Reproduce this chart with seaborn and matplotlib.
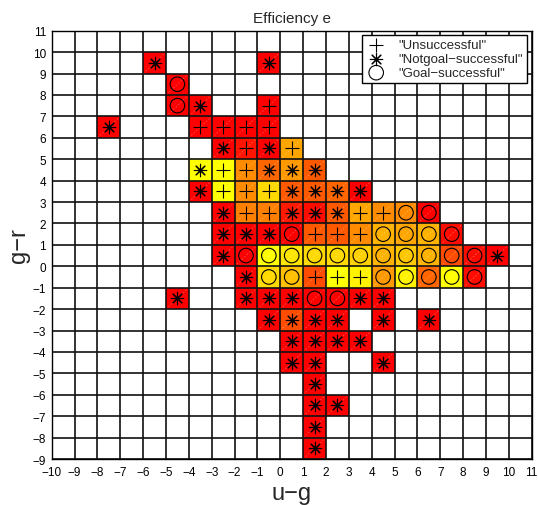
import numpy as np
import pandas as pd
import matplotlib
matplotlib.use("Agg")
import matplotlib.pyplot as plt
import seaborn as sns

# Colour-bin lower-left corners (u-g, g-r), efficiency of each bin and the outcome drawn in it
ug_bin = [
    -6, -1,                                            # g-r 9..10
    -5,                                                # 8..9
    -5, -4, -1,                                        # 7..8
    -8, -4, -3, -2, -1,                                # 6..7
    -3, -2, -1, 0,                                     # 5..6
    -4, -3, -2, -1, 0, 1,                              # 4..5
    -4, -3, -2, -1, 0, 1, 2, 3,                        # 3..4
    -3, -2, -1, 0, 1, 2, 3, 4, 5, 6,                   # 2..3
    -3, -2, -1, 0, 1, 2, 3, 4, 5, 6, 7,                # 1..2
    -3, -2, -1, 0, 1, 2, 3, 4, 5, 6, 7, 8, 9,          # 0..1
    -2, -1, 0, 1, 2, 3, 4, 5, 6, 7, 8,                 # -1..0
    -5, -2, -1, 0, 1, 2, 3, 4,                         # -2..-1
    -1, 0, 1, 2, 4, 6,                                 # -3..-2
    0, 1, 2, 3,                                        # -4..-3
    0, 1, 4,                                           # -5..-4
    1,                                                 # -6..-5
    1, 2,                                              # -7..-6
    1,                                                 # -8..-7
    1,                                                 # -9..-8
]
gr_bin = (
    [9] * 2 + [8] * 1 + [7] * 3 + [6] * 5 + [5] * 4 + [4] * 6 + [3] * 8
    + [2] * 10 + [1] * 11 + [0] * 13 + [-1] * 11 + [-2] * 8 + [-3] * 6
    + [-4] * 4 + [-5] * 3 + [-6] * 1 + [-7] * 2 + [-8] * 1 + [-9] * 1
)
efficiency = [
    0.0, 0.0,
    0.0,
    0.0, 0.0, 0.0,
    0.0, 0.0, 0.0, 0.0, 0.0,
    0.0, 0.08, 0.0, 0.65,
    1.0, 1.0, 0.55, 0.4, 0.6, 0.35,
    0.0, 1.0, 0.55, 0.85, 0.35, 0.35, 0.4, 0.0,
    0.0, 0.5, 0.5, 0.1, 0.05, 0.35, 0.65, 0.55, 0.55, 0.0,
    0.0, 0.0, 0.0, 0.0, 0.35, 0.35, 0.55, 0.7, 0.65, 0.7, 0.05,
    0.0, 0.0, 1.0, 0.9, 0.85, 0.85, 0.82, 0.7, 0.78, 0.7, 0.3, 0.05, 0.0,
    0.0, 0.85, 0.75, 0.3, 1.0, 0.95, 0.6, 0.95, 0.4, 1.0, 0.05,
    0.0, 0.0, 0.0, 0.0, 0.0, 0.0, 0.0, 0.0,
    0.0, 0.3, 0.0, 0.0, 0.0, 0.0,
    0.0, 0.0, 0.0, 0.0,
    0.0, 0.0, 0.0,
    0.0,
    0.0, 0.0,
    0.0,
    0.0,
]
outcome = [
    "N", "N",
    "G",
    "G", "N", "U",
    "N", "U", "U", "U", "U",
    "N", "U", "N", "U",
    "N", "U", "U", "N", "N", "N",
    "N", "U", "U", "U", "N", "N", "N", "N",
    "N", "U", "U", "N", "N", "N", "U", "U", "G", "G",
    "N", "N", "N", "G", "U", "U", "U", "G", "G", "G", "G",
    "N", "G", "G", "G", "G", "G", "G", "G", "G", "G", "G", "G", "N",
    "N", "G", "G", "U", "U", "U", "G", "G", "G", "G", "G",
    "N", "N", "N", "N", "G", "G", "N", "N",
    "N", "N", "N", "N", "N", "N",
    "N", "N", "N", "N",
    "N", "N", "N",
    "N",
    "N", "N",
    "N",
    "N",
]

outcome_labels = {
    "U": '"Unsuccessful"',
    "N": '"Notgoal\u2212successful"',
    "G": '"Goal\u2212successful"',
}

x_ticks = list(range(-10, 12))
y_ticks = list(range(-9, 12))

df = pd.DataFrame({"ug": ug_bin, "gr": gr_bin, "eff": efficiency, "outcome": outcome})
df["ug_c"] = df["ug"] + 0.5
df["gr_c"] = df["gr"] + 0.5

sns.set_style("white")
plt.rcParams["font.family"] = ["Liberation Sans", "DejaVu Sans"]
plt.rcParams["axes.unicode_minus"] = True

fig = plt.figure(figsize=(5.38, 5.06), dpi=100)
ax = fig.add_axes([0.0961, 0.0909, 0.8922, 0.8465])

# efficiency image on the colour grid
x_edges = np.arange(x_ticks[0], x_ticks[-1] + 1)
y_edges = np.arange(y_ticks[0], y_ticks[-1] + 1)
grid = np.full((len(y_edges) - 1, len(x_edges) - 1), np.nan)
for u, g, e in zip(df["ug"], df["gr"], df["eff"]):
    grid[g - y_edges[0], u - x_edges[0]] = e
ax.pcolormesh(x_edges, y_edges, np.ma.masked_invalid(grid), cmap="autumn",
              vmin=0, vmax=1, shading="flat", zorder=1)

# faint patch diagonals
for u, g in zip(df["ug"], df["gr"]):
    ax.plot([u, u + 1], [g, g + 1], color="white", lw=0.6, alpha=0.3,
            ls=(0, (2, 2)), zorder=1.5)

# outcome markers
styles = {
    "U": dict(marker="+", s=100, linewidth=0.8),
    "N": dict(marker=(8, 2, 0), s=80, linewidth=0.8),
    "G": dict(marker="o", s=110, linewidth=0.8, facecolor="none"),
}
for key in ["U", "N", "G"]:
    sub = df[df["outcome"] == key]
    sns.scatterplot(data=sub, x="ug_c", y="gr_c", ax=ax, color="black",
                    edgecolor="black", label=outcome_labels[key], zorder=3,
                    **styles[key])

ax.set_xlim(x_ticks[0], x_ticks[-1])
ax.set_ylim(y_ticks[0], y_ticks[-1])
ax.set_xticks(x_ticks)
ax.set_yticks(y_ticks)
ax.set_xticklabels([f"{t}".replace("-", "\u2212") for t in x_ticks], fontsize=8.5)
ax.set_yticklabels([f"{t}".replace("-", "\u2212") for t in y_ticks], fontsize=8.5)
ax.tick_params(axis="x", direction="in", length=0, pad=5, colors="black")
ax.tick_params(axis="y", direction="in", length=0, pad=4, colors="black")
ax.set_axisbelow(False)
ax.grid(True, color="#111111", linewidth=1.2, zorder=2.5)
for sp in ax.spines.values():
    sp.set_color("black")
    sp.set_linewidth(1.0)
    sp.set_zorder(4)

ax.set_title("Efficiency e", fontsize=11, pad=6)
ax.set_xlabel("u\u2212g", fontsize=17, labelpad=3)
ax.set_ylabel("g\u2212r", fontsize=17, labelpad=2)

leg = ax.legend(loc="upper right", fontsize=9.5, frameon=True, fancybox=False,
                framealpha=1, edgecolor="black", borderaxespad=0.35,
                handletextpad=0.9, labelspacing=0.12, borderpad=0.3,
                handlelength=1.6)
leg.get_frame().set_linewidth(1.0)
leg.set_zorder(5)

fig.savefig("out.png", dpi=100)
